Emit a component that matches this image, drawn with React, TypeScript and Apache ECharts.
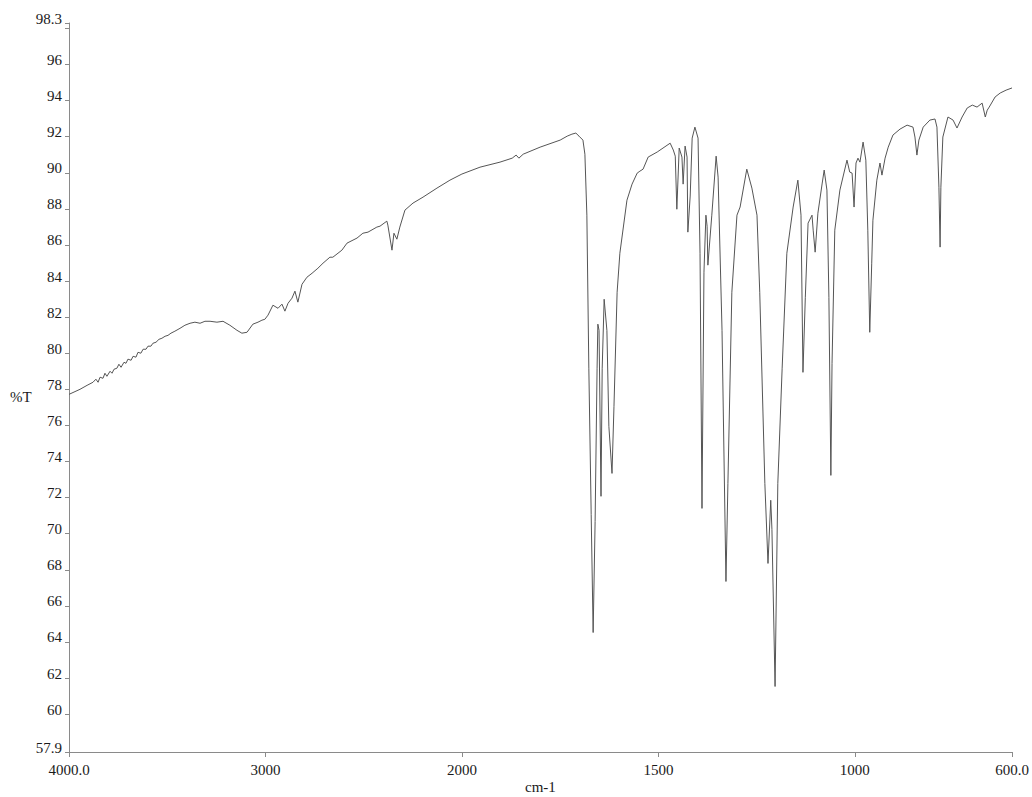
import React, { useEffect, useRef } from "react";
import * as echarts from "echarts";

// Wavenumber (cm-1) and %T
const wavenumbers: number[] = [
  4000, 3944, 3908, 3878, 3863, 3852, 3842, 3827, 3817, 3807, 3791, 3781, 3771, 3756, 3746, 3735,
  3720, 3710, 3700, 3684, 3674, 3659, 3649, 3634, 3623, 3608, 3598, 3583, 3573, 3557, 3542, 3527,
  3511, 3496, 3481, 3461, 3435, 3410, 3384, 3359, 3333, 3308, 3282, 3247, 3216, 3181, 3145, 3120,
  3094, 3064, 3038, 3018, 3003, 2987, 2962, 2936, 2916, 2901, 2885, 2865, 2850, 2835, 2814, 2789,
  2763, 2733, 2707, 2672, 2657, 2611, 2585, 2534, 2504, 2478, 2433, 2417, 2382, 2377, 2356, 2346,
  2331, 2316, 2290, 2249, 2198, 2127, 2061, 2000,
  1954, 1903, 1872, 1862, 1855, 1844, 1801, 1750, 1732, 1720, 1710, 1702, 1692, 1687, 1682, 1677,
  1671, 1666, 1661, 1656, 1654, 1651, 1646, 1643, 1638, 1631, 1626, 1618, 1613, 1605, 1598, 1580,
  1567, 1554, 1547, 1539, 1526, 1503, 1470, 1462, 1457, 1453, 1447, 1440, 1437, 1432, 1427, 1425,
  1419, 1414, 1407, 1399, 1394, 1389, 1384, 1379, 1376, 1374, 1364, 1353, 1348, 1338, 1328, 1323,
  1313, 1300, 1292, 1275, 1262, 1249, 1242, 1229, 1221, 1214, 1211, 1203, 1196, 1185, 1173, 1157,
  1145, 1137, 1132, 1126, 1119, 1109, 1106, 1101, 1094, 1083, 1078, 1071, 1066, 1061, 1058, 1051,
  1038, 1020, 1013, 1007, 1002, 997, 992, 987, 979, 972, 967, 962, 957, 954, 944, 936,
  931, 923, 915, 903, 885, 867, 852, 847, 842, 837, 826, 809, 796, 791, 786, 783,
  781, 776, 763, 750, 740, 727, 714, 701, 689, 676, 668, 663, 658, 643, 630, 615, 600,
];

const transmittance: number[] = [
  77.72, 78.0, 78.22, 78.39, 78.56, 78.39, 78.67, 78.61, 78.89, 78.72, 79.0, 78.89, 79.11, 79.17, 79.39, 79.22,
  79.5, 79.44, 79.67, 79.61, 79.83, 79.78, 80.05, 80.0, 80.22, 80.22, 80.39, 80.39, 80.55, 80.61, 80.77, 80.83,
  80.94, 80.99, 81.11, 81.22, 81.38, 81.55, 81.66, 81.72, 81.66, 81.77, 81.77, 81.72, 81.77, 81.55, 81.27, 81.11,
  81.16, 81.61, 81.72, 81.83, 81.88, 82.11, 82.66, 82.49, 82.72, 82.33, 82.77, 83.05, 83.44, 82.83, 83.82, 84.21,
  84.43, 84.71, 84.99, 85.32, 85.32, 85.71, 86.1, 86.38, 86.65, 86.71, 86.99, 87.04, 87.32, 87.1, 85.71, 86.65,
  86.32, 86.99, 87.93, 88.32, 88.65, 89.15, 89.59, 89.93,
  90.31, 90.59, 90.81, 90.98, 90.81, 91.03, 91.42, 91.81, 92.03, 92.14, 92.2, 92.03, 91.81, 91.03, 87.65, 79.17,
  71.07, 64.52, 70.68, 79.17, 81.61, 81.27, 72.07, 79.17, 82.99, 81.27, 75.95, 73.34, 77.06, 83.38, 85.54, 88.48,
  89.37, 89.98, 90.09, 90.2, 90.87, 91.15, 91.64, 91.26, 90.92, 87.98, 91.37, 90.87, 89.37, 91.48, 90.87, 86.71,
  88.71, 91.92, 92.53, 91.92, 85.54, 71.4, 84.49, 87.65, 87.04, 84.88, 87.65, 90.92, 89.76, 81.27, 67.35, 72.79,
  83.38, 87.65, 88.1, 90.2, 89.15, 87.65, 83.38, 72.79, 68.35, 71.85, 70.24, 61.53, 72.79, 79.17, 85.54, 88.1,
  89.59, 87.65, 78.94, 83.1, 87.21, 87.65, 86.82, 85.6, 87.76, 89.43, 90.15, 89.04, 83.1, 73.23, 79.44, 86.82,
  89.04, 90.7, 90.04, 89.98, 88.1, 90.54, 90.81, 90.59, 91.7, 90.7, 86.82, 81.16, 84.99, 87.37, 89.59, 90.54,
  89.87, 90.81, 91.42, 92.09, 92.42, 92.64, 92.53, 91.98, 90.98, 91.81, 92.53, 92.92, 92.98, 92.53, 89.2, 85.88,
  89.2, 91.98, 93.09, 92.92, 92.48, 93.09, 93.59, 93.75, 93.64, 93.86, 93.09, 93.47, 93.64, 94.2, 94.42, 94.58, 94.7,
];

const xTickWavenumbers: number[] = [4000, 3000, 2000, 1500, 1000, 600];
const xTickLabels: string[] = ["4000.0", "3000", "2000", "1500", "1000", "600.0"];
const yLabelValues: number[] = [57.9, 60, 62, 64, 66, 68, 70, 72, 74, 76, 78, 80, 82, 84, 86, 88, 90, 92, 94, 96, 98.3];
const yTickValues: number[] = [57.9, 60, 62, 64, 66, 68, 70, 72, 74, 76, 78, 80, 82, 84, 86, 88, 90, 92, 94, 96, 98, 98.3];

// Spectrometer scale: region above 2000 cm-1 is compressed by a factor of 2
const warp = (w: number) => (w > 2000 ? 2000 + (w - 2000) / 2 : w);

export default function App() {
  const ref = useRef<HTMLDivElement>(null);

  useEffect(() => {
    if (!ref.current) return;
    const chart = echarts.init(ref.current, null, { renderer: "svg" });
    const data = wavenumbers.map((w, i) => [warp(w), transmittance[i]]);
    const xTicks = xTickWavenumbers.map(warp);
    const font = "Liberation Serif";

    chart.setOption({
      animation: false,
      backgroundColor: "#ffffff",
      textStyle: { fontFamily: font, fontSize: 15, color: "#1a1a1a" },
      grid: { left: 69, right: 20, top: 23, bottom: 45, containLabel: false, outerBoundsMode: "none" },
      xAxis: {
        type: "value",
        inverse: true,
        min: 600,
        max: 3000,
        axisLine: { show: true, onZero: false, lineStyle: { color: "#8a8a8a", width: 1 } },
        axisTick: { show: true, length: 5, customValues: xTicks, lineStyle: { color: "#8a8a8a" } },
        axisLabel: {
          customValues: xTicks,
          margin: 10,
          color: "#1a1a1a",
          fontFamily: font,
          fontSize: 15,
          formatter: (v: number) => {
            const idx = xTicks.findIndex((t) => Math.abs(t - v) < 1e-6);
            return idx >= 0 ? xTickLabels[idx] : "";
          },
        },
        splitLine: { show: false },
      },
      yAxis: {
        type: "value",
        min: 57.9,
        max: 98.3,
        axisLine: { show: true, lineStyle: { color: "#8a8a8a", width: 1 } },
        axisTick: { show: true, length: 4, customValues: yTickValues, lineStyle: { color: "#8a8a8a" } },
        axisLabel: {
          customValues: yLabelValues,
          margin: 7,
          color: "#1a1a1a",
          fontFamily: font,
          fontSize: 15,
          verticalAlign: "bottom",
          lineHeight: 9,
          formatter: (v: number) => {
            if (Math.abs(v - 57.9) < 1e-6) return "57.9";
            if (Math.abs(v - 98.3) < 1e-6) return "98.3";
            return String(Math.round(v));
          },
        },
        splitLine: { show: false },
      },
      graphic: [
        {
          type: "text",
          left: 10,
          top: 389,
          style: { text: "%T", fill: "#1a1a1a", fontFamily: font, fontSize: 15 },
        },
        {
          type: "text",
          left: 525,
          top: 779,
          style: { text: "cm-1", fill: "#1a1a1a", fontFamily: font, fontSize: 15 },
        },
      ],
      series: [
        {
          type: "line",
          data,
          showSymbol: false,
          symbol: "none",
          smooth: false,
          lineStyle: { color: "#555555", width: 1 },
          silent: true,
        },
      ],
    });

    return () => chart.dispose();
  }, []);

  return (
    <div
      ref={ref}
      style={{ position: "fixed", left: 0, top: 0, width: 1032, height: 797, background: "#fff" }}
    />
  );
}
